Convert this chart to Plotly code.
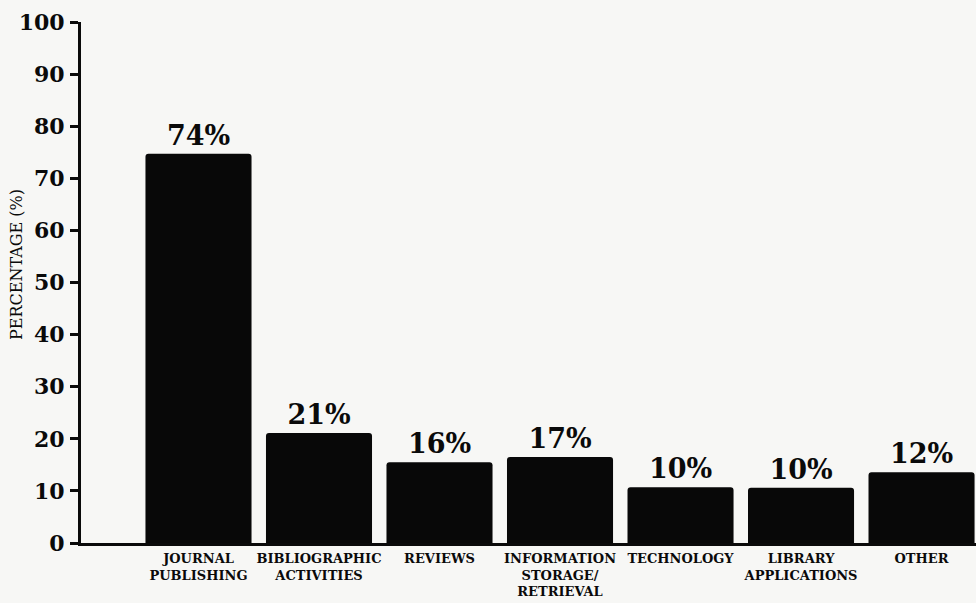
import plotly.graph_objects as go

categories = ["JOURNAL<br>PUBLISHING", "BIBLIOGRAPHIC<br>ACTIVITIES", "REVIEWS",
              "INFORMATION<br>STORAGE/<br>RETRIEVAL", "TECHNOLOGY",
              "LIBRARY<br>APPLICATIONS", "OTHER"]
bar_heights = [74.7, 21.1, 15.5, 16.5, 10.7, 10.6, 13.6]
value_labels = ["74%", "21%", "16%", "17%", "10%", "10%", "12%"]
y_ticks = [0, 10, 20, 30, 40, 50, 60, 70, 80, 90, 100]

FONT = "DejaVu Serif"
BG = "#f7f7f5"

x_idx = list(range(len(categories)))

fig = go.Figure()
fig.add_trace(go.Bar(
    x=x_idx, y=bar_heights,
    width=0.88,
    marker=dict(color="#080808", line=dict(width=0)),
    text=value_labels,
    textposition="outside",
    cliponaxis=False,
    textfont=dict(family=FONT, size=27, color="#0a0a0a", weight="bold"),
    hoverinfo="skip",
))

fig.update_layout(
    width=976, height=603,
    margin=dict(l=81, r=0, t=22, b=60, autoexpand=False),
    paper_bgcolor=BG, plot_bgcolor=BG,
    showlegend=False,
    barcornerradius=3,
    xaxis=dict(
        range=[-0.975, 6.452],
        tickmode="array", tickvals=x_idx, ticktext=categories,
        tickangle=0, automargin=False,
        ticks="", showgrid=False, zeroline=False,
        showline=True, linecolor="#0a0a0a", linewidth=3,
        tickfont=dict(family=FONT, size=13, color="#0a0a0a", weight="bold"),
        ticklabelstandoff=1,
        fixedrange=True,
    ),
    yaxis=dict(
        range=[0, 100], automargin=False,
        tickmode="array", tickvals=y_ticks,
        ticks="outside", ticklen=8, tickwidth=3, tickcolor="#0a0a0a",
        showgrid=False, zeroline=False,
        showline=True, linecolor="#0a0a0a", linewidth=3,
        tickfont=dict(family=FONT, size=22, color="#0a0a0a", weight="bold"),
        ticklabelstandoff=1,
        fixedrange=True,
    ),
    annotations=[dict(
        text="PERCENTAGE (%)", textangle=-90,
        xref="paper", yref="paper",
        x=(16 - 81) / 895, y=(543 - 265) / 521,
        xanchor="center", yanchor="middle", showarrow=False,
        font=dict(family=FONT, size=16, color="#0a0a0a"),
    )],
)

fig.write_html("out.html")
